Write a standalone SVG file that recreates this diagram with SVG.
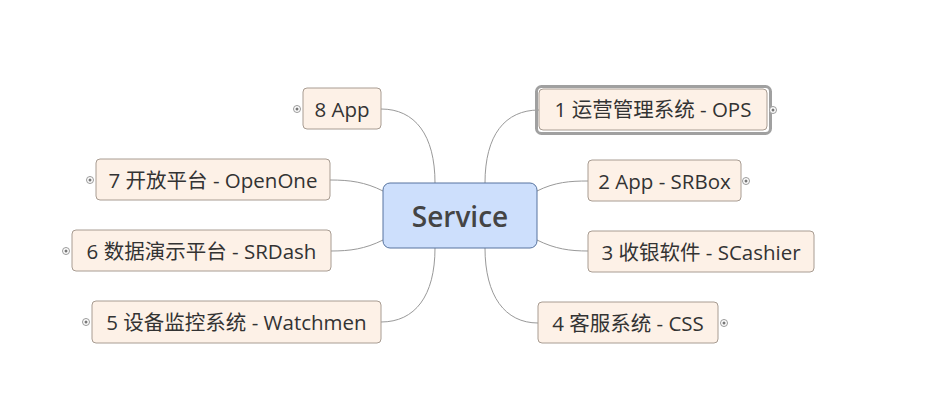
<svg xmlns="http://www.w3.org/2000/svg" width="937" height="400" viewBox="0 0 937 400">
<style>
.n{fill:#fdf1e7;stroke:#a89c92;stroke-width:1}
.t{font-family:"Open Sans","Noto Sans CJK SC",sans-serif;font-size:20.5px;fill:#333;text-anchor:middle;dominant-baseline:central}
.c{fill:none;stroke:#999;stroke-width:1}
.i{fill:#fff;stroke:#999;stroke-width:1}
.d{fill:#777}
</style>
<rect width="937" height="400" fill="#fff"/>
<g id="connectors">
<path class="c" d="M435 183 C435 135 415 109 381 109"/>
<path class="c" d="M485 183 C485 135 505 110 539 110"/>
<path class="c" d="M383 191 C365 182 350 180 330 180"/>
<path class="c" d="M537 191 C555 182 570 181 588 181"/>
<path class="c" d="M383 240 C365 249 350 251 331 251"/>
<path class="c" d="M537 240 C555 249 570 251 588 251"/>
<path class="c" d="M435 248 C435 296 415 322 381 322"/>
<path class="c" d="M485 248 C485 296 505 323 538 323"/>
</g>
<g id="central">
<rect x="383" y="183" width="154" height="65" rx="7" fill="#cddffc" stroke="#56739f" stroke-width="1"/>
<text x="460" y="216" style="font-family:'Open Sans',sans-serif;font-size:28px;font-weight:600;fill:#444;text-anchor:middle;dominant-baseline:central">Service</text>
</g>
<g id="n8">
<rect class="n" x="303" y="88" width="78" height="41" rx="4"/>
<text class="t" x="342" y="109">8 App</text>
<circle class="i" cx="297" cy="109" r="3.5"/><circle class="d" cx="297" cy="109" r="1.5"/>
</g>
<g id="n1">
<rect x="536.5" y="86.5" width="234" height="47" rx="5" fill="none" stroke="#a0a0a0" stroke-width="3"/>
<rect class="n" x="539" y="89" width="228" height="41" rx="4"/>
<text class="t" x="653" y="109">1 运营管理系统 - OPS</text>
<circle class="i" cx="773" cy="110" r="3.5"/><circle class="d" cx="773" cy="110" r="1.5"/>
</g>
<g id="n7">
<rect class="n" x="96" y="159" width="234" height="41" rx="4"/>
<text class="t" x="213" y="180">7 开放平台 - OpenOne</text>
<circle class="i" cx="90" cy="180" r="3.5"/><circle class="d" cx="90" cy="180" r="1.5"/>
</g>
<g id="n2">
<rect class="n" x="588" y="160" width="153" height="41" rx="4"/>
<text class="t" x="664.5" y="181">2 App - SRBox</text>
<circle class="i" cx="746" cy="181" r="3.5"/><circle class="d" cx="746" cy="181" r="1.5"/>
</g>
<g id="n6">
<rect class="n" x="72" y="230" width="259" height="41" rx="4"/>
<text class="t" x="201.5" y="251">6 数据演示平台 - SRDash</text>
<circle class="i" cx="66" cy="251" r="3.5"/><circle class="d" cx="66" cy="251" r="1.5"/>
</g>
<g id="n3">
<rect class="n" x="588" y="231" width="226" height="41" rx="4"/>
<text class="t" x="701" y="252">3 收银软件 - SCashier</text>
</g>
<g id="n5">
<rect class="n" x="92" y="301" width="289" height="42" rx="4"/>
<text class="t" x="236.5" y="322">5 设备监控系统 - Watchmen</text>
<circle class="i" cx="86" cy="322" r="3.5"/><circle class="d" cx="86" cy="322" r="1.5"/>
</g>
<g id="n4">
<rect class="n" x="538" y="302" width="180" height="41" rx="4"/>
<text class="t" x="628" y="323">4 客服系统 - CSS</text>
<circle class="i" cx="724" cy="323" r="3.5"/><circle class="d" cx="724" cy="323" r="1.5"/>
</g>
</svg>
